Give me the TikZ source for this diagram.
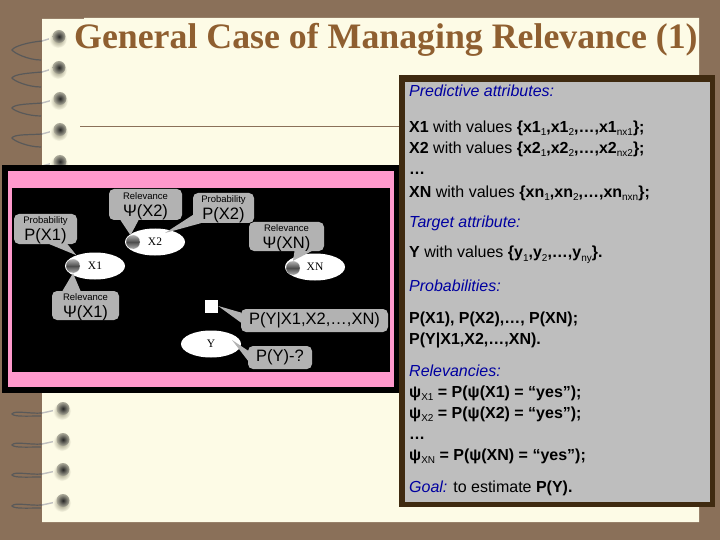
\documentclass[tikz,border=0pt]{standalone}
\usepackage{fontspec}
\setmainfont{Liberation Sans}
\newfontfamily\titlefont{Liberation Serif}
\usetikzlibrary{shapes.geometric}
\definecolor{deskbrown}{HTML}{8A7059}
\definecolor{paper}{HTML}{FDFBE6}
\definecolor{titlebrown}{HTML}{8F5F30}
\definecolor{framebrown}{HTML}{3F2A10}
\definecolor{panelgray}{HTML}{BEBEBE}
\definecolor{tipgray}{HTML}{B2B2B2}
\definecolor{linkblue}{HTML}{0000A0}
\definecolor{rosepink}{HTML}{FF99CC}
\definecolor{ballmid}{HTML}{8A8870}
\newcommand{\lowidx}[1]{\raisebox{-3pt}{\fontsize{10}{10}\selectfont\mdseries #1}}
\newcommand{\tinylab}[1]{{\fontsize{9.5}{11}\selectfont\rule{0pt}{10pt}#1}}
\tikzset{
	attr/.style={ellipse, fill=white, inner sep=0pt, minimum width=60pt, minimum height=27pt, font=\titlefont\fontsize{11.5}{11.5}\selectfont},
	knob/.style={circle, inner sep=0pt, minimum size=14pt, top color=gray!60, bottom color=gray!60, middle color=black!70, draw=white, densely dotted, thin},
	tipbox/.style={fill=tipgray, rounded corners=5pt, inner xsep=0pt, inner ysep=-4pt, align=center, font=\fontsize{16.5}{17}\selectfont},
	tail/.style={fill=tipgray},
	line/.style={anchor=base west, inner sep=0pt, font=\fontsize{16}{18}\selectfont},
	boldline/.style={line, font=\fontsize{16}{18}\selectfont\bfseries},
	head/.style={line, text=linkblue, font=\fontsize{16}{18}\selectfont\itshape}
}
\begin{document}
\begin{tikzpicture}[x=1pt,y=-1pt]
	\useasboundingbox (0,0) rectangle (720,540);
	\fill[deskbrown] (0,0) rectangle (720,540);
	\fill[paper] (42,19) -- (84,19) -- (84,18) -- (699,18) -- (699,522) -- (42,522) -- cycle;
	\draw[deskbrown, thin] (80,126) -- (399,126);

	% binding
	\foreach \y/\l/\e/\x in {38/12/22/58,69/9/18/58,100/8/16/59,131/7/16/59,163/7/16/59,410/4/6/62,441/4/6/62,471/4/6/62,502/4/6/62}{
		\draw[black!65, line width=1.2pt] (42,\y+3) .. controls (30,\y+4) and (14,\y+\l-4) .. (12,\y+\l) .. controls (14,\y+\l+3) and (28,\y+\e) .. (41,\y+\e);
		\draw[black!25, line width=1.4pt] (42,\y+3) -- (\x-6,\y);
		\shade[inner color=ballmid, outer color=paper] (\x,\y+1) circle[radius=9];
		\shade[inner color=black!85, outer color=ballmid!70] (\x+1,\y-1.5) circle[radius=6.5];
	}

	\node[font=\titlefont\bfseries\fontsize{35.8}{38}\selectfont, text=titlebrown, anchor=base west, inner sep=0pt] (title) at (74,49) {General Case of Managing Relevance (1)};

	% figure
	\fill[black] (2,165) rectangle (399,393);
	\fill[rosepink] (8,171) rectangle (394,387);
	\fill[black] (12,188) rectangle (390,372);

	\node[attr] (elxone) at (95,266) {X1};
	\node[attr] (elxtwo) at (155,242) {X2};
	\node[attr] (elxn) at (315,267) {XN};
	\node[attr] (ely) at (211,344) {Y};
	\node[fill=white, inner sep=0pt, minimum size=13pt] (sq) at (211.5,306) {};
	\node[knob] (knobxone) at (73,266) {};
	\node[knob] (knobxtwo) at (133,242) {};
	\node[knob] (knobxn) at (293,268) {};

	\node[tipbox, minimum width=63pt, minimum height=30pt] (probxone) at (45.5,229) {\tinylab{Probability}\\P(X1)};
	\node[tipbox, minimum width=73pt, minimum height=31pt] (relxtwo) at (145.5,204.5) {\tinylab{Relevance}\\Ψ(X2)};
	\node[tipbox, minimum width=61pt, minimum height=30pt] (probxtwo) at (223.5,208) {\tinylab{Probability}\\P(X2)};
	\node[tipbox, minimum width=75pt, minimum height=29pt] (relxn) at (286.5,236.5) {\tinylab{Relevance}\\Ψ(XN)};
	\node[tipbox, minimum width=67pt, minimum height=29pt] (relxone) at (85.5,305.5) {\tinylab{Relevance}\\Ψ(X1)};
	\node[tipbox, minimum width=147pt, minimum height=23pt] (pygiven) at (314.5,320.5) {P(Y|X1,X2,\dots,XN)};
	\node[tipbox, minimum width=64pt, minimum height=23pt] (pyq) at (280,357.5) {P(Y)-?};

	\coordinate (tipxtwo) at (165,233);
	\coordinate (tipy) at (232,340);
	\fill[tail] ([xshift=4pt]probxone.south) -- (elxone.150) -- ([xshift=22pt]probxone.south) -- cycle;
	\fill[tail] ([xshift=-25pt]relxtwo.south) -- (knobxtwo.110) -- ([xshift=-7pt]relxtwo.south) -- cycle;
	\fill[tail] ([yshift=-7pt]probxtwo.west) -- (tipxtwo) -- ([xshift=8pt]probxtwo.south west) -- cycle;
	\fill[tail] ([xshift=8pt]relxn.south) -- (knobxn.north) -- ([xshift=25pt]relxn.south) -- cycle;
	\fill[tail] ([xshift=-23pt]relxone.north) -- (knobxone.south) -- ([xshift=-5pt]relxone.north) -- cycle;
	\fill[tail] ([yshift=8pt]pygiven.west) -- (sq.east) -- ([yshift=-2pt]pygiven.west) -- cycle;
	\fill[tail] ([yshift=7pt]pyq.west) -- (tipy) -- ([yshift=-3pt]pyq.west) -- cycle;

	% panel
	\fill[framebrown] (399,75) rectangle (715,507);
	\fill[panelgray] (405,82) rectangle (710,502);

	\node[head] (predhead) at (409,97) {Predictive attributes:};
	\node[line] (xone) at (409,133) {\textbf{X1} with values \textbf{\{x1\lowidx{1},x1\lowidx{2},\dots,x1\lowidx{nx1}\};}};
	\node[line] (xtwo) at (409,154) {\textbf{X2} with values \textbf{\{x2\lowidx{1},x2\lowidx{2},\dots,x2\lowidx{nx2}\};}};
	\node[boldline] (dotsa) at (409,175) {\dots};
	\node[line] (xn) at (409,197) {\textbf{XN} with values \textbf{\{xn\lowidx{1},xn\lowidx{2},\dots,xn\lowidx{nxn}\};}};
	\node[head] (targethead) at (409,228) {Target attribute:};
	\node[line] (yvals) at (409,258) {\textbf{Y} with values \textbf{\{y\lowidx{1},y\lowidx{2},\dots,y\lowidx{ny}\}.}};
	\node[head] (probhead) at (409,291) {Probabilities:};
	\node[boldline] (probs) at (409,323) {P(X1), P(X2),\dots, P(XN);};
	\node[boldline] (probcond) at (409,344) {P(Y|X1,X2,\dots,XN).};
	\node[head] (relhead) at (409,376) {Relevancies:};
	\node[boldline] (psione) at (409,397) {ψ\lowidx{X1} = P(ψ(X1) = “yes”);};
	\node[boldline] (psitwo) at (409,418) {ψ\lowidx{X2} = P(ψ(X2) = “yes”);};
	\node[boldline] (dotsb) at (409,439) {\dots};
	\node[boldline] (psixn) at (409,460) {ψ\lowidx{XN} = P(ψ(XN) = “yes”);};
	\node[line] (goal) at (409,492) {\textcolor{linkblue}{\textit{Goal:}} to estimate \textbf{P(Y).}};
\end{tikzpicture}
\end{document}
